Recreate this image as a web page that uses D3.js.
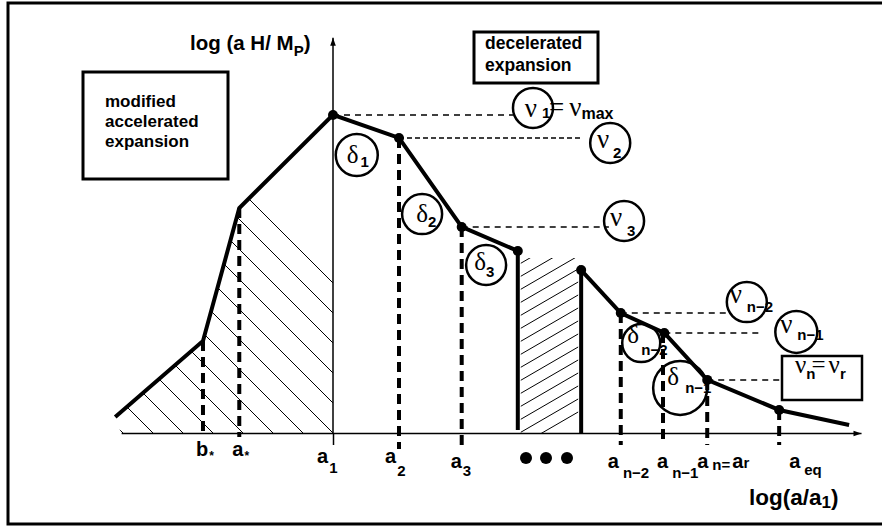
<!DOCTYPE html>
<html><head><meta charset="utf-8">
<script src="https://cdn.jsdelivr.net/npm/d3@7"></script>
<style>body{margin:0;background:#fff}svg{display:block}</style>
</head><body><svg id="c" width="882" height="529"></svg>
<script>
// ---------------- data (x: log(a/a1) units, y: log(aH/Mp) units) ----------------
const leftX  = [-3.30, -1.97, -1.42, 0.00, 1.00, 1.95, 2.80];
const leftY  = [ 0.50,  2.875, 7.03, 9.94, 9.22, 6.44, 5.69];
const gapX   = [2.80, 3.76];
const gapTop = [5.69, 5.09];
const rightX = [3.76, 4.36, 5.02, 5.67, 6.76, 7.82];
const rightY = [5.09, 3.75, 3.125, 1.66, 0.72, 0.25];
const dotX   = [0.00, 1.00, 1.95, 2.80, 3.76, 4.36, 5.02, 5.67, 6.76];
const dotY   = [9.94, 9.22, 6.44, 5.69, 5.09, 3.75, 3.125, 1.66, 0.72];
const tickX    = [-1.97, -1.42, 0.00, 1.00, 1.95, 4.36, 5.00, 5.67, 6.76];
const tickTop  = [2.875, 7.03, null, 9.22, 6.44, 3.75, 3.125, 1.66, 0.72];
const tickMain = ["b", "a", "a", "a", "a", "a", "a", "a", "a"];
const tickSub  = ["*", "*", "1", "2", "3", "n\u22122", "n\u22121", "n=", "eq"];
const hFromX = [0.00, 1.00, 1.95, 4.36, 5.02, 5.67];
const hY     = [9.94, 9.22, 6.44, 3.75, 3.125, 1.66];
const hToX   = [2.73, 3.76, 4.18, 5.97, 6.47, 6.82];
const circX  = [3.03, 4.20, 4.41, 0.36, 1.35, 2.32, 6.27, 7.02, 4.67, 5.26];
const circY  = [10.16, 9.06, 6.625, 8.69, 6.84, 5.25, 4.09, 3.16, 2.81, 1.41];
const circGreek = ["ν", "ν", "ν", "δ", "δ", "δ", "ν", "ν", "δ", "δ"];
const circSub   = [" 1", "2", "3", "1", "2", "3", "n\u22122", "n\u22121", "n\u22122", "n\u22121"];

// ---------------- layout / style ----------------
const circR = [20, 20, 20, 21, 20, 20, 20, 21, 19, 27];
const circLayout = [ // [greek dx, greek dy, sub dx, sub dy]
  [-2, 9, 11, 10], [-7, 5, 7, 15], [-8, 5, 7, 15], [-4, 8, 8, 12], [0, 8, 10, 13], [-6, 5, 4, 12],
  [-11, 1, 0, 10], [-10, 1, 1, 8], [-8, 0, 0, 12], [-7, -3, 5, 5]
];
const tickLayout = [ // [main dx, main baseline, sub baseline]
  [-7, 456, 460], [-7, 456, 460], [-16, 463, 473], [-14, 463, 476], [-11, 468, 476],
  [-13, 468, 478], [-6, 468, 478], [-10, 468, 470], [10, 468, 475]
];
const SANS = "'Liberation Sans', Arial, Helvetica, sans-serif";
const SERIF = "'Liberation Serif', 'Times New Roman', serif";

const svg = d3.select("#c");
const x = d3.scaleLinear().domain([-3.5, 8.5]).range([102, 894]);
const y = d3.scaleLinear().domain([0, 12.5]).range([433, 33]);

// frame
svg.append("rect").attr("x", 8).attr("y", 3).attr("width", 885).attr("height", 521)
  .attr("fill", "none").attr("stroke", "#000").attr("stroke-width", 3);

const defs = svg.append("defs");
defs.append("marker").attr("id", "arr").attr("viewBox", "0 0 10 10").attr("refX", 10).attr("refY", 5)
  .attr("markerWidth", 10).attr("markerHeight", 8).attr("markerUnits", "userSpaceOnUse").attr("orient", "auto")
  .append("path").attr("d", "M0,1.5 L10,5 L0,8.5 Z").attr("fill", "#000");

// ----- hatching left region -----
const leftPoly = leftX.slice(0, 4).map((v, i) => [x(v), y(leftY[i])]);
leftPoly.push([x(0), y(0)], [x(-3.21), y(0)]);
defs.append("clipPath").attr("id", "clipL").append("path").attr("d", "M" + leftPoly.join("L") + "Z");
const hl = svg.append("g").attr("clip-path", "url(#clipL)");
for (let k = -5; k < 20; k++) {
  const cx = x(0) - 30 * k;
  hl.append("line").attr("x1", cx - 400).attr("y1", y(0) - 400).attr("x2", cx + 50).attr("y2", y(0) + 50)
    .attr("stroke", "#000").attr("stroke-width", 1);
}
// ----- hatching gap region -----
defs.append("clipPath").attr("id", "clipG").append("rect")
  .attr("x", x(gapX[0]) + 3).attr("y", y(5.47)).attr("width", x(gapX[1]) - x(gapX[0]) - 6).attr("height", y(0) - y(5.47));
const hg = svg.append("g").attr("clip-path", "url(#clipG)");
for (let k = 0; k < 25; k++) {
  const yy = y(0) + 14 - 13 * k;
  hg.append("line").attr("x1", x(gapX[0])).attr("y1", yy).attr("x2", x(gapX[1])).attr("y2", yy - 0.58 * (x(gapX[1]) - x(gapX[0])))
    .attr("stroke", "#000").attr("stroke-width", 1);
}

// ----- axes -----
const xa = d3.scaleLinear().domain([-3.21, 8.0]).range([x(-3.21), x(8.0)]);
const gx = svg.append("g").attr("transform", `translate(0,${y(0)})`)
  .call(d3.axisBottom(xa).tickValues([0]).tickSize(12).tickSizeOuter(0).tickFormat(""));
gx.selectAll("path,line").attr("stroke", "#000").attr("stroke-width", 1.5);
gx.select(".domain").attr("marker-end", "url(#arr)");
const ya = d3.scaleLinear().domain([0, 12.35]).range([y(0), y(12.35)]);
const gy = svg.append("g").attr("transform", `translate(${x(0)},0)`)
  .call(d3.axisLeft(ya).tickValues([]).tickSizeOuter(0));
gy.select(".domain").attr("stroke", "#000").attr("stroke-width", 1.5).attr("d", `M0,${y(0)}V${y(12.35)}`)
  .attr("marker-end", "url(#arr)");

// ----- dashed vertical ticks -----
svg.append("g").selectAll("line").data(tickX.filter((d, i) => tickTop[i] !== null)).join("line")
  .attr("x1", d => x(d)).attr("x2", d => x(d))
  .attr("y1", d => y(tickTop[tickX.indexOf(d)]))
  .attr("y2", d => { const i = tickX.indexOf(d); return i < 2 ? 437 : (i < 5 ? 449 : 445); })
  .attr("stroke", "#000").attr("stroke-width", 4).attr("stroke-dasharray", "10,6");

// ----- dashed horizontal levels -----
svg.append("g").selectAll("line").data(hFromX).join("line")
  .attr("x1", d => x(d)).attr("x2", (d, i) => x(hToX[i]))
  .attr("y1", (d, i) => y(hY[i])).attr("y2", (d, i) => y(hY[i]))
  .attr("stroke", "#000").attr("stroke-width", 1.5).attr("stroke-dasharray", (d, i) => i === 1 ? "5,3" : "6,5");

// ----- curves -----
const line = d3.line().x(d => x(d[0])).y(d => y(d[1]));
const curveStyle = s => s.attr("fill", "none").attr("stroke", "#000").attr("stroke-width", 4).attr("stroke-linejoin", "miter");
svg.append("path").attr("d", line(leftX.map((v, i) => [v, leftY[i]]).concat([[gapX[0], 0.09]]))).call(curveStyle);
svg.append("path").attr("d", line([[gapX[1], 0]].concat(rightX.map((v, i) => [v, rightY[i]])))).call(curveStyle);
svg.append("g").selectAll("circle").data(dotX).join("circle")
  .attr("cx", d => x(d)).attr("cy", (d, i) => y(dotY[i])).attr("r", 5).attr("fill", "#000");

// ----- circles with greek labels -----
const cg = svg.append("g").selectAll("g").data(circX).join("g")
  .attr("transform", (d, i) => `translate(${x(d)},${y(circY[i])})`);
cg.append("circle").attr("r", (d, i) => circR[i]).attr("fill", "none").attr("stroke", "#000").attr("stroke-width", 2.5);
cg.append("text").attr("x", (d, i) => circLayout[i][0]).attr("y", (d, i) => circLayout[i][1])
  .attr("text-anchor", "middle").attr("font-family", SERIF).attr("font-size", (d, i) => circGreek[i] === "ν" ? 27 : 25)
  .text((d, i) => circGreek[i]);
cg.append("text").attr("x", (d, i) => circLayout[i][2]).attr("y", (d, i) => circLayout[i][3])
  .attr("font-family", SANS).attr("font-weight", "bold").attr("font-size", 15)
  .attr("text-anchor", (d, i) => circSub[i].length > 2 ? "start" : "middle")
  .style("white-space", "pre").text((d, i) => circSub[i]);

// "= ν_max"
const nm = svg.append("text").attr("x", 549).attr("y", 116).attr("font-family", SERIF).attr("font-size", 27);
nm.append("tspan").text("=");
nm.append("tspan").attr("dx", 5).text("ν");
nm.append("tspan").attr("font-family", SANS).attr("font-weight", "bold").attr("font-size", 16).attr("dy", 3).text("max");

// box ν_n = ν_r
svg.append("rect").attr("x", 782).attr("y", 356).attr("width", 80).attr("height", 44)
  .attr("fill", "#fff").attr("stroke", "#000").attr("stroke-width", 2.5);
const nr = svg.append("text").attr("x", 795).attr("y", 373).attr("font-family", SERIF).attr("font-size", 25);
nr.append("tspan").text("ν");
nr.append("tspan").attr("font-family", SANS).attr("font-weight", "bold").attr("font-size", 15).attr("dy", 6).text("n");
nr.append("tspan").attr("dx", -4).attr("dy", -6).text("=");
nr.append("tspan").attr("dx", 3).text("ν");
nr.append("tspan").attr("font-family", SANS).attr("font-weight", "bold").attr("font-size", 15).attr("dy", 6).text("r");

// ----- tick labels -----
const tl = svg.append("g").attr("font-family", SANS).attr("font-weight", "bold");
tickX.forEach((v, i) => {
  const L = tickLayout[i];
  const t = tl.append("text").attr("x", x(v) + L[0]).attr("y", L[1]).attr("font-size", 20);
  t.append("tspan").text(tickMain[i]);
  t.append("tspan").attr("font-size", tickSub[i] === "*" ? 12 : 15)
    .attr("dy", L[2] - L[1]).attr("dx", tickSub[i].length > 1 ? 4 : 1).text(tickSub[i]);
  if (i === 7) {
    t.append("tspan").attr("dx", 2).attr("dy", L[1] - L[2]).text("a");
    t.append("tspan").attr("font-size", 15).text("r");
  }
});
// dots "..."
svg.append("g").selectAll("circle").data([526, 546, 567]).join("circle")
  .attr("cx", d => d).attr("cy", 458).attr("r", 6).attr("fill", "#000");

// axis titles
const yt = svg.append("text").attr("x", 190).attr("y", 50).attr("font-family", SANS).attr("font-weight", "bold").attr("font-size", 20.5);
yt.append("tspan").text("log (a H/ M");
yt.append("tspan").attr("font-size", 15).attr("dy", 6).text("P");
yt.append("tspan").attr("dy", -6).text(")");
const xt = svg.append("text").attr("x", 749).attr("y", 505).attr("font-family", SANS).attr("font-weight", "bold").attr("font-size", 22.5);
xt.append("tspan").text("log(a/a");
xt.append("tspan").attr("font-size", 17).attr("dy", 3).text("1");
xt.append("tspan").attr("dy", -3).text(")");

// boxes
svg.append("rect").attr("x", 83).attr("y", 72).attr("width", 145).attr("height", 107)
  .attr("fill", "none").attr("stroke", "#000").attr("stroke-width", 3);
svg.append("text").attr("font-family", SANS).attr("font-weight", "bold").attr("font-size", 17)
  .selectAll("tspan").data(["modified", "accelerated", "expansion"]).join("tspan")
  .attr("x", 105).attr("y", (d, i) => 107 + 20 * i).text(d => d);
svg.append("rect").attr("x", 474).attr("y", 32).attr("width", 124).attr("height", 51)
  .attr("fill", "none").attr("stroke", "#000").attr("stroke-width", 3);
svg.append("text").attr("font-family", SANS).attr("font-weight", "bold").attr("font-size", 17.5)
  .selectAll("tspan").data(["decelerated", "expansion"]).join("tspan")
  .attr("x", 485).attr("y", (d, i) => 49 + 22 * i).text(d => d);
</script></body></html>
